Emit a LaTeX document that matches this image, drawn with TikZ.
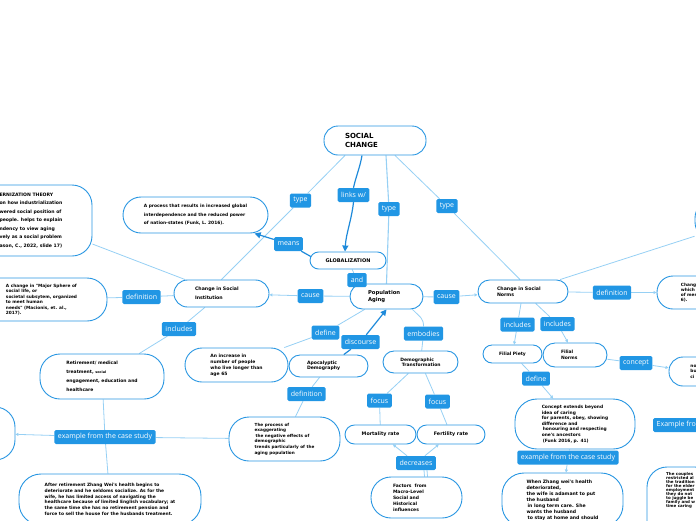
\documentclass[tikz,border=0pt]{standalone}
\usepackage{fontspec}
\newfontfamily\nfam{DejaVu Sans}
\newfontfamily\lfam{Open Sans}
\usetikzlibrary{arrows.meta,calc}
\definecolor{bord}{RGB}{40,150,226}
\definecolor{labc}{RGB}{33,150,228}
\definecolor{edgec}{RGB}{150,208,244}
\definecolor{darkc}{RGB}{30,138,218}
\pgfdeclarelayer{bg}
\pgfsetlayers{bg,main}
\tikzset{
  box/.style={draw=bord, line width=0.9pt, fill=white, align=left, inner sep=0pt},
  sz/.style 2 args={minimum width=#1pt, minimum height=#2pt},
  nf/.style 2 args={font=\nfam\bfseries\fontsize{#1}{#2}\selectfont},
  lab/.style={fill=labc, text=white, font=\lfam\fontsize{7}{8}\selectfont, rounded corners=1.5pt, inner xsep=3.5pt, inner ysep=0pt, minimum height=14pt},
  edge/.style={draw=edgec, line width=0.8pt},
  tip/.style={-{Triangle[length=3pt,width=3pt]}},
  darr/.style={draw=darkc, line width=1.2pt},
  bigtip/.style={-{Triangle[length=6pt,width=6pt]}},
}
\begin{document}
\begin{tikzpicture}[x=1pt,y=-1pt]
\useasboundingbox (0,0) rectangle (696,520);
% ---------- boxes ----------
\node[box, sz={102}{29}, rounded corners=14pt, nf={7}{9}, text width=60pt] (sc) at (375,140.5) {SOCIAL\\CHANGE};
\node[box, sz={122}{71}, rounded corners=20pt, nf={4.6}{8.5}] (mod) at (31,220.5) {ERNIZATION THEORY\\on how industrialization\\wered social position of\\people. helps to explain\\ndency to view aging\\vely as a social problem\\ason, C., 2022, slide 17)};
\node[box, sz={145}{36}, rounded corners=18pt, nf={4.4}{8.5}] (proc) at (195.5,215) {A process that results in increased global\\interdependence and the reduced power\\of nation-states (Funk, L. 2016).};
\node[box, sz={131}{43}, rounded corners=20pt, nf={4.3}{5.5}] (schg) at (41.5,299.5) {A change in "Major Sphere of\\social life, or\\societal subsytem, organized\\to meet human\\needs" (Macionis, et. al.,\\2017).};
\node[box, sz={95}{27}, rounded corners=13.5pt, nf={4.7}{9}, text width=53pt] (csi) at (221.5,293.5) {Change in Social\\Institution};
\node[box, sz={76}{17}, rounded corners=8.5pt, nf={5}{6}] (glob) at (348,260.5) {GLOBALIZATION};
\node[box, sz={73}{25}, rounded corners=12.5pt, nf={5.3}{7}, text width=37pt] (pa) at (386.5,296.5) {Population\\Aging};
\node[box, sz={90}{23}, rounded corners=11.5pt, nf={4.7}{6}, text width=52pt] (csn) at (523,291.5) {Change in Social\\Norms};
\node[box, sz={66}{33}, rounded corners=16pt, nf={4.3}{5}] (rdef) at (690,292.5) {Chang\\which\\of mem\\6).};
\node[box, sz={100}{40}, rounded corners=18pt] (trn) at (745,220) {};
\node[box, sz={124}{45}, rounded corners=20pt, nf={4.5}{9}] (ret) at (102,376.5) {Retirement/ medical\\treatment, {\fontsize{3.4}{9}\selectfont social}\\engagement, education and\\healthcare};
\node[box, sz={103}{34}, rounded corners=17pt, nf={4.5}{6}] (inc) at (236.5,365) {An increase in\\number of people\\who live longer than\\age 65};
\node[box, sz={79}{22}, rounded corners=11pt, nf={4.6}{5}, text width=43pt] (apoc) at (328.5,366) {Apocalyptic\\Demography};
\node[box, sz={75}{22}, rounded corners=11pt, nf={4.5}{5}] (dt) at (420.5,362) {Demographic\\\hspace*{1.5pt}Transformation};
\node[box, sz={111}{44}, rounded corners=20pt, nf={4.2}{5.6}] (exag) at (284.5,439) {The process of\\exaggerating\\\hspace*{1pt}the negative effects of\\demographic\\trends particularly of the\\aging population};
\node[box, sz={71}{19}, rounded corners=9.5pt, nf={4.8}{6}] (mort) at (380.5,434.5) {Mortality rate};
\node[box, sz={68}{19}, rounded corners=9.5pt, nf={4.8}{6}] (fert) at (451,434.5) {Fertility rate};
\node[box, sz={91}{41}, rounded corners=20pt, nf={4.5}{6}, text width=47pt] (fac) at (416.5,497.5) {Factors~~from\\Macro-Level\\Social and\\Historical\\influences};
\node[box, sz={55}{53}, rounded corners=20pt] (lp) at (-12.5,433.5) {};
\node[box, sz={182}{51}, rounded corners=22pt, nf={4.4}{5.7}] (aft) at (110,499.5) {After retirement Zhang Wei's health begins to\\deteriorate and he seldoms socialize. As for the\\wife, he has limited access of navigating the\\healthcare because of limited English vocabulary; at\\the same time she has no retirement pension and\\force to sell the house for the husbands treatment.};
\node[box, sz={59}{18}, rounded corners=9pt, nf={4.5}{6}] (pie) at (512.5,354) {Filial Piety};
\node[box, sz={64}{24}, rounded corners=12pt, nf={4.5}{6}, text width=28pt] (nor) at (575,355) {Filial\\Norms};
\node[box, sz={49}{29}, rounded corners=14pt, nf={4.3}{5.5}] (rcon) at (693.5,371.5) {no\\bu\\ci};
\node[box, sz={120}{50}, rounded corners=22pt, nf={4.4}{5.6}] (cext) at (575,424) {Concept extends beyond\\idea of caring\\for parents, obey, showing\\difference and\\\hspace*{1pt}honouring and respecting\\one's ancestors\\\hspace*{1pt}(Funk 2016, p. 41)};
\node[box, sz={121}{54}, rounded corners=22pt, nf={4.6}{6}] (when) at (562.5,500) {When Zhang wei's health\\deteriorated,\\the wife is adamant to put\\the husband\\\hspace*{1pt}in long term care. She\\wants the husband\\\hspace*{1pt}to stay at home and should};
\node[box, sz={68}{75}, rounded corners=20pt] (brn) at (681,504.5) {};
\node[nf={4}{4}, align=left, anchor=north west, inner sep=0pt] (brntext) at (666,472) {The couples\\restricted al\\the tradition\\for the elder\\employment\\they do not\\to juggle be\\family and w\\time caring};
% ---------- labels ----------
\node[lab] (typel) at (300.5,200.5) {type};
\node[lab] (links) at (353.5,195) {links w/};
\node[lab] (typem) at (389,209) {type};
\node[lab] (typer) at (447,206) {type};
\node[lab] (means) at (288.5,244) {means};
\node[lab] (andl) at (357,280) {and};
\node[lab] (causel) at (310.5,296) {cause};
\node[lab] (causer) at (446.5,297) {cause};
\node[lab] (defl) at (141.5,297) {definition};
\node[lab] (incll) at (179,329) {includes};
\node[lab] (define) at (325.5,332.5) {define};
\node[lab] (disc) at (360.5,342) {discourse};
\node[lab] (emb) at (423.5,333.5) {embodies};
\node[lab] (defc) at (306.5,394) {definition};
\node[lab] (focl) at (379.5,400.5) {focus};
\node[lab] (focr) at (437.5,401.5) {focus};
\node[lab] (decr) at (416,463) {decreases};
\node[lab] (exl) at (105,437) {example from the case study};
\node[lab] (inc1) at (517.5,324.5) {includes};
\node[lab] (inc2) at (557.5,324) {includes};
\node[lab] (defr) at (612,292.5) {definition};
\node[lab] (conc) at (636,363) {concept};
\node[lab] (defn) at (536,378.5) {define};
\node[lab] (exr) at (568,457.5) {example from the case study};
\node[lab, anchor=west] (exfro) at (653,425) {Example from the case study};
% ---------- connectors ----------
\begin{pgfonlayer}{bg}
\draw[edge] ($(sc.south)+(-30,0)$) -- (typel) -- (csi.north);
\draw[darr] ($(sc.south)+(-13,0)$) .. controls +(-2,12) and +(2,-10) .. (links.north);
\draw[darr,bigtip] (links.south) .. controls +(-2,18) and +(1,-18) .. ($(glob.north)+(-3,0)$);
\draw[edge, line width=1.1pt] ($(sc.south)+(11,0)$) -- (typem) -- (pa.north);
\draw[edge] ($(sc.south)+(20,0)$) -- (typer) -- ($(csn.north)+(-3,0)$);
\draw[darr] ($(glob.west)+(3,-3)$) -- (means);
\draw[darr,bigtip] (means) -- (proc);
\draw[edge] (glob) -- (andl) -- (pa);
\draw[edge] (pa) -- (causel);
\draw[edge,tip] (causel) -- (csi);
\draw[edge] (pa) -- (causer);
\draw[edge,tip] (causer) -- (csn);
\draw[edge] (csi) -- (defl) -- (schg);
\draw[edge] (mod) -- (csi);
\draw[edge] (csi) -- (incll) -- (ret);
\draw[edge] (ret) -- (exl) -- (aft);
\draw[edge,tip] (exl) -- (lp);
\draw[edge] (exag) -- (exl);
\draw[edge] (pa) -- (define) -- (inc);
\draw[darr] (apoc) -- (disc);
\draw[darr,bigtip] (disc) -- (pa.south);
\draw[edge] ($(pa.south)+(26,0)$) .. controls +(8,8) and +(0,-8) .. (emb.north);
\draw[edge] (emb) -- (dt);
\draw[edge] (apoc) -- (defc) -- (exag);
\draw[edge] (dt) -- (focl) -- (mort);
\draw[edge] (dt) -- (focr) -- (fert);
\draw[edge] ($(fac.north)+(8,0)$) -- ($(decr.south)+(8,0)$);
\draw[edge] ($(fac.north)+(11,0)$) -- ($(decr.south)+(11,0)$);
\draw[edge,tip] (decr) -- (mort);
\draw[edge,tip] (decr) -- (fert);
\draw[edge] (csn) -- (inc1);
\draw[edge,tip] (inc1) -- (pie);
\draw[edge] (csn) -- (inc2);
\draw[edge,tip] (inc2) -- (nor);
\draw[edge] (csn) -- (defr);
\draw[edge,tip] (defr) -- (rdef);
\draw[edge] (csn) -- (trn);
\draw[edge] (nor) -- (conc);
\draw[edge,tip] (conc) -- (rcon);
\draw[edge] (pie) -- (defn);
\draw[edge,tip] (defn) -- (cext);
\draw[edge] (cext) -- (exr);
\draw[edge,tip] (exr) -- (when);
\end{pgfonlayer}
\end{tikzpicture}
\end{document}
